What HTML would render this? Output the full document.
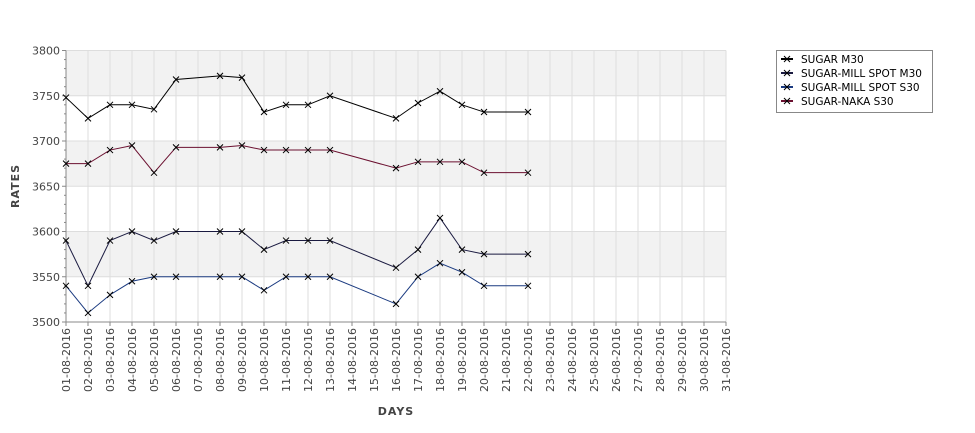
<!DOCTYPE html>
<html><head><meta charset="utf-8"><style>
body{margin:0;background:#fff;font-family:"DejaVu Sans","Liberation Sans",sans-serif}
</style></head><body>
<svg id="c" width="975" height="429" xmlns="http://www.w3.org/2000/svg" font-family="DejaVu Sans, Liberation Sans, sans-serif"></svg>
<script>
const days = [];
for (let d = 1; d <= 31; d++) days.push((d < 10 ? '0' + d : '' + d) + '-08-2016');
const dataDays = [1,2,3,4,5,6,8,9,10,11,12,13,16,17,18,19,20,22];
const sugarM30 = [3748,3725,3740,3740,3735,3768,3772,3770,3732,3740,3740,3750,3725,3742,3755,3740,3732,3732];
const millSpotM30 = [3590,3540,3590,3600,3590,3600,3600,3600,3580,3590,3590,3590,3560,3580,3615,3580,3575,3575];
const millSpotS30 = [3540,3510,3530,3545,3550,3550,3550,3550,3535,3550,3550,3550,3520,3550,3565,3555,3540,3540];
const nakaS30 = [3675,3675,3690,3695,3665,3693,3693,3695,3690,3690,3690,3690,3670,3677,3677,3677,3665,3665];
const yTicks = [3500,3550,3600,3650,3700,3750,3800];
const seriesNames = ['SUGAR M30','SUGAR-MILL SPOT M30','SUGAR-MILL SPOT S30','SUGAR-NAKA S30'];

const svg = document.getElementById('c');
const NS = 'http://www.w3.org/2000/svg';
const L = 66, R = 726, T = 50.5, B = 322, yMin = 3500, yMax = 3800;
const x = d => L + (d - 1) * (R - L) / 30;
const y = v => B - (v - yMin) / (yMax - yMin) * (B - T);
function mk(tag, a, parent) { const e = document.createElementNS(NS, tag); for (const k in a) e.setAttribute(k, a[k]); (parent || svg).appendChild(e); return e; }

// bands
for (let i = 0; i < yTicks.length - 1; i++) {
  if ((yTicks.length - 2 - i) % 2 === 0) {
    const b = mk('rect', {x: L, y: y(yTicks[i+1]), width: R - L, height: y(yTicks[i]) - y(yTicks[i+1]), fill: '#f2f2f2'});
    
    
  }
}
// grid
days.forEach((d, i) => {
  const g = mk('line', {x1: x(i+1), x2: x(i+1), y1: T, y2: B, stroke: '#dddddd', 'stroke-width': 1});
  
  
});
yTicks.forEach(v => {
  const g = mk('line', {x1: L, x2: R, y1: y(v), y2: y(v), stroke: '#dddddd', 'stroke-width': 1});
  
  
  const t = mk('text', {x: L - 6, y: y(v) + 4, 'text-anchor': 'end', 'font-size': 11, fill: '#444'});
  t.textContent = v;
  
  
});
// minor y ticks
for (let v = yMin; v <= yMax; v += 10) {
  const tk = mk('line', {x1: L - (v % 50 === 0 ? 4 : 2), x2: L, y1: y(v), y2: y(v), stroke: '#888'});
  
  
}
// axes
const ax1 = mk('line', {x1: L, x2: L, y1: T, y2: B, stroke: '#888'});


const ax2 = mk('line', {x1: L, x2: R, y1: B, y2: B, stroke: '#888'});


days.forEach((d, i) => {
  const tk = mk('line', {x1: x(i+1), x2: x(i+1), y1: B, y2: B + 4, stroke: '#888'});
  
  
  const t = mk('text', {transform: `translate(${x(i+1)+4},${B+6}) rotate(-90)`, 'text-anchor': 'end', 'font-size': 11, fill: '#444'});
  t.textContent = d;
  
  
});
const yt = mk('text', {transform: 'translate(19,186) rotate(-90)', 'text-anchor': 'middle', 'font-size': 11, 'font-weight': 'bold', fill: '#444', 'letter-spacing': 1});
yt.textContent = 'RATES';


const xt = mk('text', {x: 396, y: 415, 'text-anchor': 'middle', 'font-size': 11, 'font-weight': 'bold', fill: '#444', 'letter-spacing': 1});
xt.textContent = 'DAYS';



const colors = ['#000000', '#1a1a40', '#1a3a80', '#6b1030'];
const allSeries = [sugarM30, millSpotM30, millSpotS30, nakaS30];
const seriesKeys = ['sugar-m30', 'mill-spot-m30', 'mill-spot-s30', 'naka-s30'];
allSeries.forEach((vals, s) => {
  const pts = vals.map((v, i) => x(dataDays[i]) + ',' + y(v)).join(' ');
  const pl = mk('polyline', {points: pts, fill: 'none', stroke: colors[s], 'stroke-width': 1});
  
  
  vals.forEach((v, i) => {
    const cx = x(dataDays[i]), cy = y(v);
    const p = mk('path', {d: `M${cx-3},${cy-3}L${cx+3},${cy+3}M${cx-3},${cy+3}L${cx+3},${cy-3}`, stroke: '#000', 'stroke-width': 1});
    
    
  });
});
// legend
const lg = mk('g', {});


mk('rect', {x: 776.5, y: 50.5, width: 156, height: 62, fill: '#fff', stroke: '#888'}, lg);
seriesNames.forEach((n, i) => {
  const ly = 59 + i * 14;
  const e = mk('g', {}, lg);
  
  
  mk('line', {x1: 781, x2: 793, y1: ly, y2: ly, stroke: colors[i], 'stroke-width': 2}, e);
  mk('path', {d: `M${784},${ly-3}L${790},${ly+3}M${784},${ly+3}L${790},${ly-3}`, stroke: '#000'}, e);
  const t = mk('text', {x: 801, y: ly + 4, 'font-size': 10.5, fill: '#000'}, e);
  t.textContent = n;
});
</script>
</body></html>
